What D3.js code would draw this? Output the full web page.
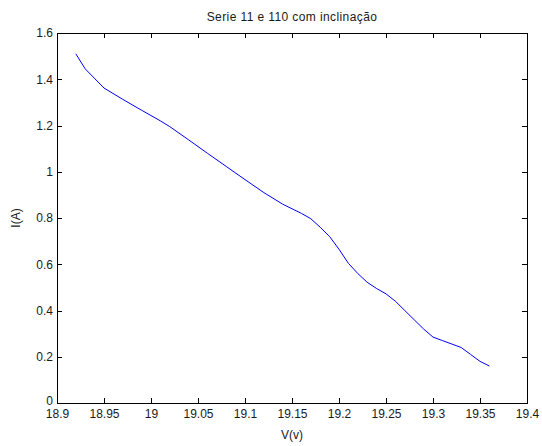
<!DOCTYPE html>
<html>
<head>
<meta charset="utf-8">
<script src="https://cdn.jsdelivr.net/npm/d3@7"></script>
<style>
  body { margin: 0; background: #fff; }
  text { font-family: "Liberation Sans", Arial, sans-serif; fill: #1a1a1a; }
</style>
</head>
<body>
<div id="chart"></div>
<script>
//DATA
let voltage = [18.92, 18.93, 18.95, 18.97, 18.99, 19.01, 19.02, 19.04, 19.06, 19.08,
  19.10, 19.12, 19.14, 19.16, 19.17, 19.18, 19.19, 19.20, 19.21, 19.22,
  19.23, 19.24, 19.25, 19.26, 19.27, 19.28, 19.29, 19.30, 19.31, 19.32,
  19.33, 19.34, 19.35, 19.36];
let current = [1.51, 1.445, 1.362, 1.313, 1.266, 1.22, 1.195, 1.138, 1.08, 1.023,
  0.966, 0.91, 0.86, 0.82, 0.797, 0.76, 0.72, 0.665, 0.604, 0.56,
  0.522, 0.495, 0.472, 0.44, 0.40, 0.36, 0.32, 0.285, 0.27, 0.255,
  0.24, 0.21, 0.18, 0.16];
let xTicks = [18.9, 18.95, 19, 19.05, 19.1, 19.15, 19.2, 19.25, 19.3, 19.35, 19.4];
let yTicks = [0, 0.2, 0.4, 0.6, 0.8, 1, 1.2, 1.4, 1.6];
let titleText = "Serie 11 e 110 com inclinação";
let xLabel = "V(v)";
let yLabel = "I(A)";

//DIMENSIONS
let WIDTH = 542,
  HEIGHT = 446,
  MARGIN = { top: 33, right: 15, bottom: 43, left: 57 };
let innerW = WIDTH - MARGIN.left - MARGIN.right,
  innerH = HEIGHT - MARGIN.top - MARGIN.bottom;

let svg = d3
  .select("#chart")
  .append("svg")
  .attr("width", WIDTH)
  .attr("height", HEIGHT);

let g = svg.append("g").attr("transform", `translate(${MARGIN.left}, ${MARGIN.top})`);

//SCALES
let xScale = d3.scaleLinear().domain([18.9, 19.4]).range([0, innerW]);
let yScale = d3.scaleLinear().domain([0, 1.6]).range([innerH, 0]);

//AXES (matlab style: ticks inward on all four sides)
let fmt = (d) => d3.format("~g")(d);

let xBottom = g.append("g")
  .attr("transform", `translate(0,${innerH})`)
  .call(d3.axisBottom(xScale).tickValues(xTicks).tickFormat(fmt).tickSizeInner(-5).tickSizeOuter(0).tickPadding(6));
let xTop = g.append("g")
  .call(d3.axisTop(xScale).tickValues(xTicks).tickFormat("").tickSizeInner(-5).tickSizeOuter(0));
let yLeft = g.append("g")
  .call(d3.axisLeft(yScale).tickValues(yTicks).tickFormat(fmt).tickSizeInner(-5).tickSizeOuter(0).tickPadding(4));
let yRight = g.append("g")
  .attr("transform", `translate(${innerW},0)`)
  .call(d3.axisRight(yScale).tickValues(yTicks).tickFormat("").tickSizeInner(-5).tickSizeOuter(0));

[xBottom, xTop, yLeft, yRight].forEach((a) => {
  a.select(".domain").remove();
  a.selectAll("line").attr("stroke", "#000").attr("shape-rendering", "crispEdges");
  a.selectAll("text").style("font-size", "12px").attr("fill", "#1a1a1a");
});
xBottom.selectAll("text").attr("dy", "0.75em");
//the "0" sits slightly raised, as in the original
yLeft.selectAll("text").filter((d) => d === 0).attr("dy", "0.1em");

//Box
g.append("rect")
  .attr("x", 0)
  .attr("y", 0)
  .attr("width", innerW)
  .attr("height", innerH)
  .attr("fill", "none")
  .attr("stroke", "#000")
  .attr("shape-rendering", "crispEdges");

//LINE
let data = voltage.map((v, i) => ({ v: v, a: current[i] }));
g.append("path")
  .datum(data)
  .attr("d", d3.line().x((d) => xScale(d.v)).y((d) => yScale(d.a)))
  .attr("fill", "none")
  .attr("stroke", "#0000ff")
  .attr("stroke-width", 1);

//LABELS
svg.append("text")
  .attr("x", MARGIN.left + innerW / 2)
  .attr("y", 21)
  .attr("text-anchor", "middle")
  .style("font-size", "12px")
  .style("letter-spacing", "0.4px")
  .text(titleText);

svg.append("text")
  .attr("x", MARGIN.left + innerW / 2)
  .attr("y", 439)
  .attr("text-anchor", "middle")
  .style("font-size", "12px")
  .text(xLabel);

svg.append("text")
  .attr("transform", `translate(20, ${MARGIN.top + innerH / 2}) rotate(-90)`)
  .attr("text-anchor", "middle")
  .style("font-size", "12px")
  .text(yLabel);
</script>
</body>
</html>
